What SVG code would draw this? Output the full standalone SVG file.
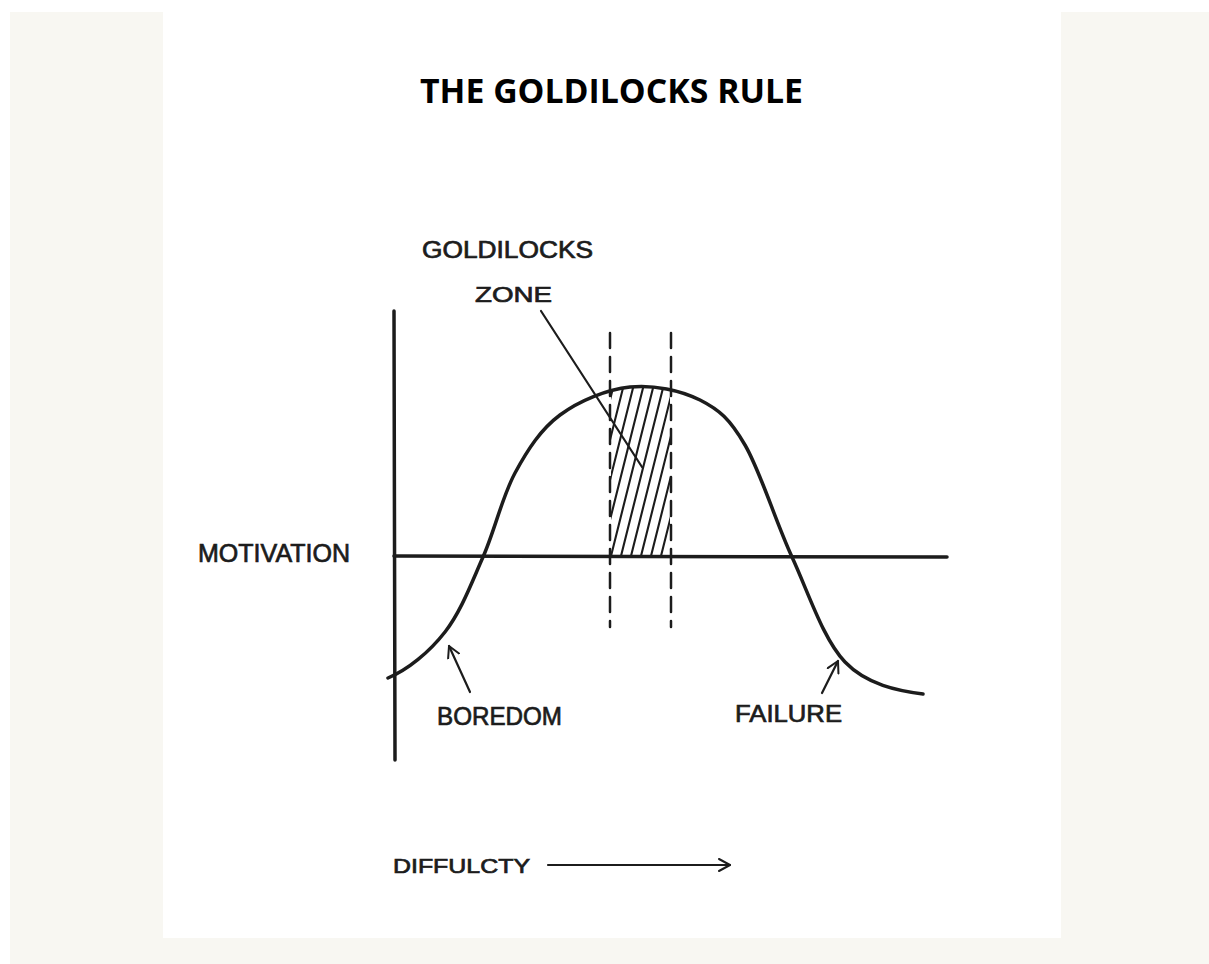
<svg xmlns="http://www.w3.org/2000/svg" width="1209" height="964" viewBox="0 0 1209 964">
  <style>
    .ink { fill: none; stroke: #1c1c1c; stroke-linecap: round; stroke-linejoin: round; }
    .hand { font-family: "Liberation Sans", "DejaVu Sans", sans-serif; fill: #1c1c1c; stroke: #1c1c1c; stroke-width: 0.7; }
    .title { font-family: "Open Sans", "Liberation Sans", sans-serif; font-weight: 700; fill: #000; }
  </style>
  <defs>
    <marker id="openArrow" viewBox="0 0 14 14" refX="12" refY="7" markerWidth="14" markerHeight="14" orient="auto" markerUnits="userSpaceOnUse">
      <path d="M1,1 L12,7 L1,13" fill="none" stroke="#1c1c1c" stroke-width="2" stroke-linecap="round" stroke-linejoin="round"/>
    </marker>
    <clipPath id="humpClip">
      <path d="M560,415 C579.2,400.7 606.7,389.5 630,387 C653.3,384.5 680.8,390.3 700,400 L700,556 L560,556 Z"/>
    </clipPath>
    <clipPath id="zoneClip">
      <rect x="611" y="370" width="59" height="187"/>
    </clipPath>
  </defs>

  <!-- background -->
  <rect x="0" y="0" width="1209" height="964" fill="#ffffff"/>
  <rect x="10" y="12" width="1199" height="952" fill="#f8f7f2"/>
  <rect x="163" y="12" width="898" height="926" fill="#ffffff"/>

  <g id="title">
    <text class="title" x="420" y="103" font-size="34" textLength="383" lengthAdjust="spacingAndGlyphs">THE GOLDILOCKS RULE</text>
  </g>

  <g id="axes">
    <path class="ink" d="M394,311 L395,760" stroke-width="3.5"/>
    <path class="ink" d="M394,556 L947,557" stroke-width="3.5"/>
  </g>

  <g id="zone">
    <g clip-path="url(#zoneClip)">
      <g clip-path="url(#humpClip)">
        <g class="ink" stroke-width="2.1">
          <path d="M550,560 L594,384"/>
          <path d="M560,560 L604,384"/>
          <path d="M570,560 L614,384"/>
          <path d="M580,560 L624,384"/>
          <path d="M590,560 L634,384"/>
          <path d="M600,560 L644,384"/>
          <path d="M610,560 L654,384"/>
          <path d="M620,560 L664,384"/>
          <path d="M630,560 L674,384"/>
          <path d="M640,560 L684,384"/>
          <path d="M650,560 L694,384"/>
          <path d="M660,560 L704,384"/>
        </g>
      </g>
    </g>
    <path class="ink" d="M610,333 L610,627" stroke-width="2.5" stroke-dasharray="15 9" stroke-linecap="butt"/>
    <path class="ink" d="M671,333 L671,627" stroke-width="2.5" stroke-dasharray="15 9" stroke-linecap="butt"/>
  </g>

  <g id="curve">
    <path class="ink" stroke-width="3.5" d="M388,678 C408,669.7 429.2,652.2 445,632 C460.8,611.8 471.3,583.5 483,557 C494.7,530.5 502.2,496.7 515,473 C527.8,449.3 540.8,429.3 560,415 C579.2,400.7 606.7,389.5 630,387 C653.3,384.5 680.8,390.3 700,400 C719.2,409.7 729.7,418.8 745,445 C760.3,471.2 775.3,520.8 792,557 C808.7,593.2 823.2,639.2 845,662 C866.8,684.8 898,690.7 923,694"/>
  </g>

  <g id="labels">
    <text class="hand" x="422" y="258" font-size="23" textLength="171" lengthAdjust="spacingAndGlyphs">GOLDILOCKS</text>
    <text class="hand" x="475" y="302" font-size="22" textLength="77" lengthAdjust="spacingAndGlyphs">ZONE</text>
    <text class="hand" x="198" y="562" font-size="25" textLength="152" lengthAdjust="spacingAndGlyphs">MOTIVATION</text>
    <text class="hand" x="437" y="725" font-size="25" textLength="125" lengthAdjust="spacingAndGlyphs">BOREDOM</text>
    <text class="hand" x="735" y="722" font-size="24" textLength="107" lengthAdjust="spacingAndGlyphs">FAILURE</text>
    <text class="hand" x="393" y="873" font-size="20" textLength="137" lengthAdjust="spacingAndGlyphs">DIFFULCTY</text>
  </g>

  <g id="connectors">
    <path class="ink" d="M541,311 L642,467" stroke-width="2.2"/>
    <path class="ink" d="M470,692 L449,646" stroke-width="2.2" marker-end="url(#openArrow)"/>
    <path class="ink" d="M822,693 L838,661" stroke-width="2.2" marker-end="url(#openArrow)"/>
    <path class="ink" d="M548,865 L730,865" stroke-width="2.2" stroke="#2a1c1c" marker-end="url(#openArrow)"/>
  </g>
</svg>
